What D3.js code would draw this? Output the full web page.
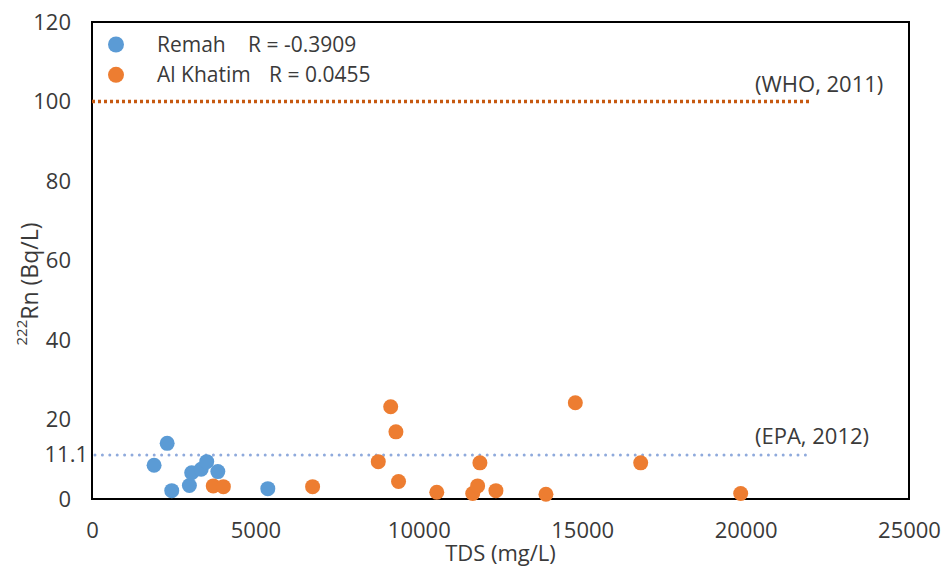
<!DOCTYPE html>
<html>
<head>
<meta charset="utf-8">
<script src="https://cdn.jsdelivr.net/npm/d3@7"></script>
<style>
  html, body { margin: 0; padding: 0; background: #fff; }
  svg { display: block; font-family: "Open Sans", sans-serif; }
</style>
</head>
<body>
<svg id="chart" width="943" height="572"></svg>
<script>
// TDS (mg/L) vs 222Rn (Bq/L)
const remahTDS = [1900, 2300, 2440, 2980, 3050, 3340, 3510, 3850, 5380];
const remahRn  = [8.5, 14.0, 2.1, 3.4, 6.6, 7.5, 9.4, 6.9, 2.6];

const khatimTDS = [3710, 4020, 6750, 8760, 9140, 9300, 9380, 10550, 11650, 11800, 11870, 12360, 13890, 14790, 16790, 19850];
const khatimRn  = [3.3, 3.1, 3.1, 9.4, 23.2, 16.9, 4.4, 1.7, 1.4, 3.3, 9.1, 2.1, 1.2, 24.2, 9.1, 1.4];

const seriesNames = ["Remah", "Al Khatim"];
const seriesR = ["R = -0.3909", "R = 0.0455"];

const xTicks = [0, 5000, 10000, 15000, 20000, 25000];
const yTicks = [0, 20, 40, 60, 80, 100, 120];

// guideline values: WHO 100 Bq/L, EPA 11.1 Bq/L, drawn up to TDS 22000
const whoLimit = 100, epaLimit = 11.1, limitEnd = 22000;

const W = 943, H = 572;
const margin = { left: 92, top: 22, right: 34, bottom: 73 };
const svg = d3.select("#chart");

const x = d3.scaleLinear().domain([0, 25000]).range([margin.left, W - margin.right]);
const y = d3.scaleLinear().domain([0, 120]).range([H - margin.bottom, margin.top]);

const textColor = "#3a3a3a";
const blue = "#5B9BD5", orange = "#ED7D31";
const fontSize = 22;

// axes (labels only; frame drawn separately)
const xAxis = svg.append("g")
  .attr("transform", `translate(0,${y(0)})`)
  .call(d3.axisBottom(x).tickValues(xTicks).tickSize(0).tickPadding(23).tickFormat(d3.format("d")));
const yAxis = svg.append("g")
  .attr("transform", `translate(${x(0)},0)`)
  .call(d3.axisLeft(y).tickValues(yTicks).tickSize(0).tickPadding(21));
[xAxis, yAxis].forEach(g => {
  g.select(".domain").remove();
  g.selectAll("text").attr("fill", textColor).style("font-size", fontSize + "px").style("font-family", "'Open Sans', sans-serif");
});

// plot frame
svg.append("rect")
  .attr("x", x(0)).attr("y", y(120))
  .attr("width", x(25000) - x(0)).attr("height", y(0) - y(120))
  .attr("fill", "none").attr("stroke", "#000").attr("stroke-width", 2);

// WHO guideline
svg.append("line")
  .attr("x1", x(0)).attr("x2", x(limitEnd))
  .attr("y1", y(whoLimit)).attr("y2", y(whoLimit))
  .attr("stroke", "#C65911").attr("stroke-width", 3.5)
  .attr("stroke-dasharray", "3,3");
svg.append("text")
  .attr("x", 755).attr("y", y(whoLimit) - 10)
  .attr("fill", textColor).style("font-size", fontSize + "px")
  .text("(WHO, 2011)");

// EPA guideline
svg.append("line")
  .attr("x1", x(0) + 3).attr("x2", x(limitEnd))
  .attr("y1", y(epaLimit)).attr("y2", y(epaLimit))
  .attr("stroke", "#8FAADC").attr("stroke-width", 3)
  .attr("stroke-linecap", "round")
  .attr("stroke-dasharray", "0,7.4");
svg.append("text")
  .attr("x", 755).attr("y", y(epaLimit) - 11)
  .attr("fill", textColor).style("font-size", fontSize + "px")
  .text("(EPA, 2012)");
svg.append("text")
  .attr("x", 88).attr("y", y(epaLimit))
  .attr("dy", "0.32em")
  .attr("text-anchor", "end")
  .attr("fill", textColor).style("font-size", fontSize + "px")
  .text("11.1");

// scatter points
const remah = remahTDS.map((v, i) => ({ tds: v, rn: remahRn[i] }));
const khatim = khatimTDS.map((v, i) => ({ tds: v, rn: khatimRn[i] }));
[[remah, blue], [khatim, orange]].forEach(([data, color]) => {
  svg.append("g").selectAll("circle").data(data).join("circle")
    .attr("cx", d => x(d.tds)).attr("cy", d => y(d.rn))
    .attr("r", 7.5).attr("fill", color);
});

// legend
const legend = svg.append("g");
[blue, orange].forEach((c, i) => {
  const cy = 44.5 + i * 30.3;
  legend.append("circle").attr("cx", 116).attr("cy", cy).attr("r", 8).attr("fill", c);
  legend.append("text").attr("x", 157).attr("y", cy + 7.5)
    .attr("fill", textColor).style("font-size", "21px").text(seriesNames[i]);
  legend.append("text").attr("x", i === 0 ? 248 : 269).attr("y", cy + 7)
    .attr("fill", textColor).style("font-size", "21px").text(seriesR[i]);
});

// axis titles
svg.append("text")
  .attr("x", (x(0) + x(25000)) / 2).attr("y", 561)
  .attr("text-anchor", "middle")
  .attr("fill", textColor).style("font-size", fontSize + "px")
  .text("TDS (mg/L)");

const yTitle = svg.append("text")
  .attr("transform", "translate(34,284) rotate(-90)")
  .attr("text-anchor", "middle")
  .attr("fill", textColor).style("font-size", "23px");
yTitle.append("tspan").attr("dy", "-0.45em").style("font-size", "15px").text("222");
yTitle.append("tspan").attr("dy", "0.45em").text("Rn (Bq/L)");
</script>
</body>
</html>
